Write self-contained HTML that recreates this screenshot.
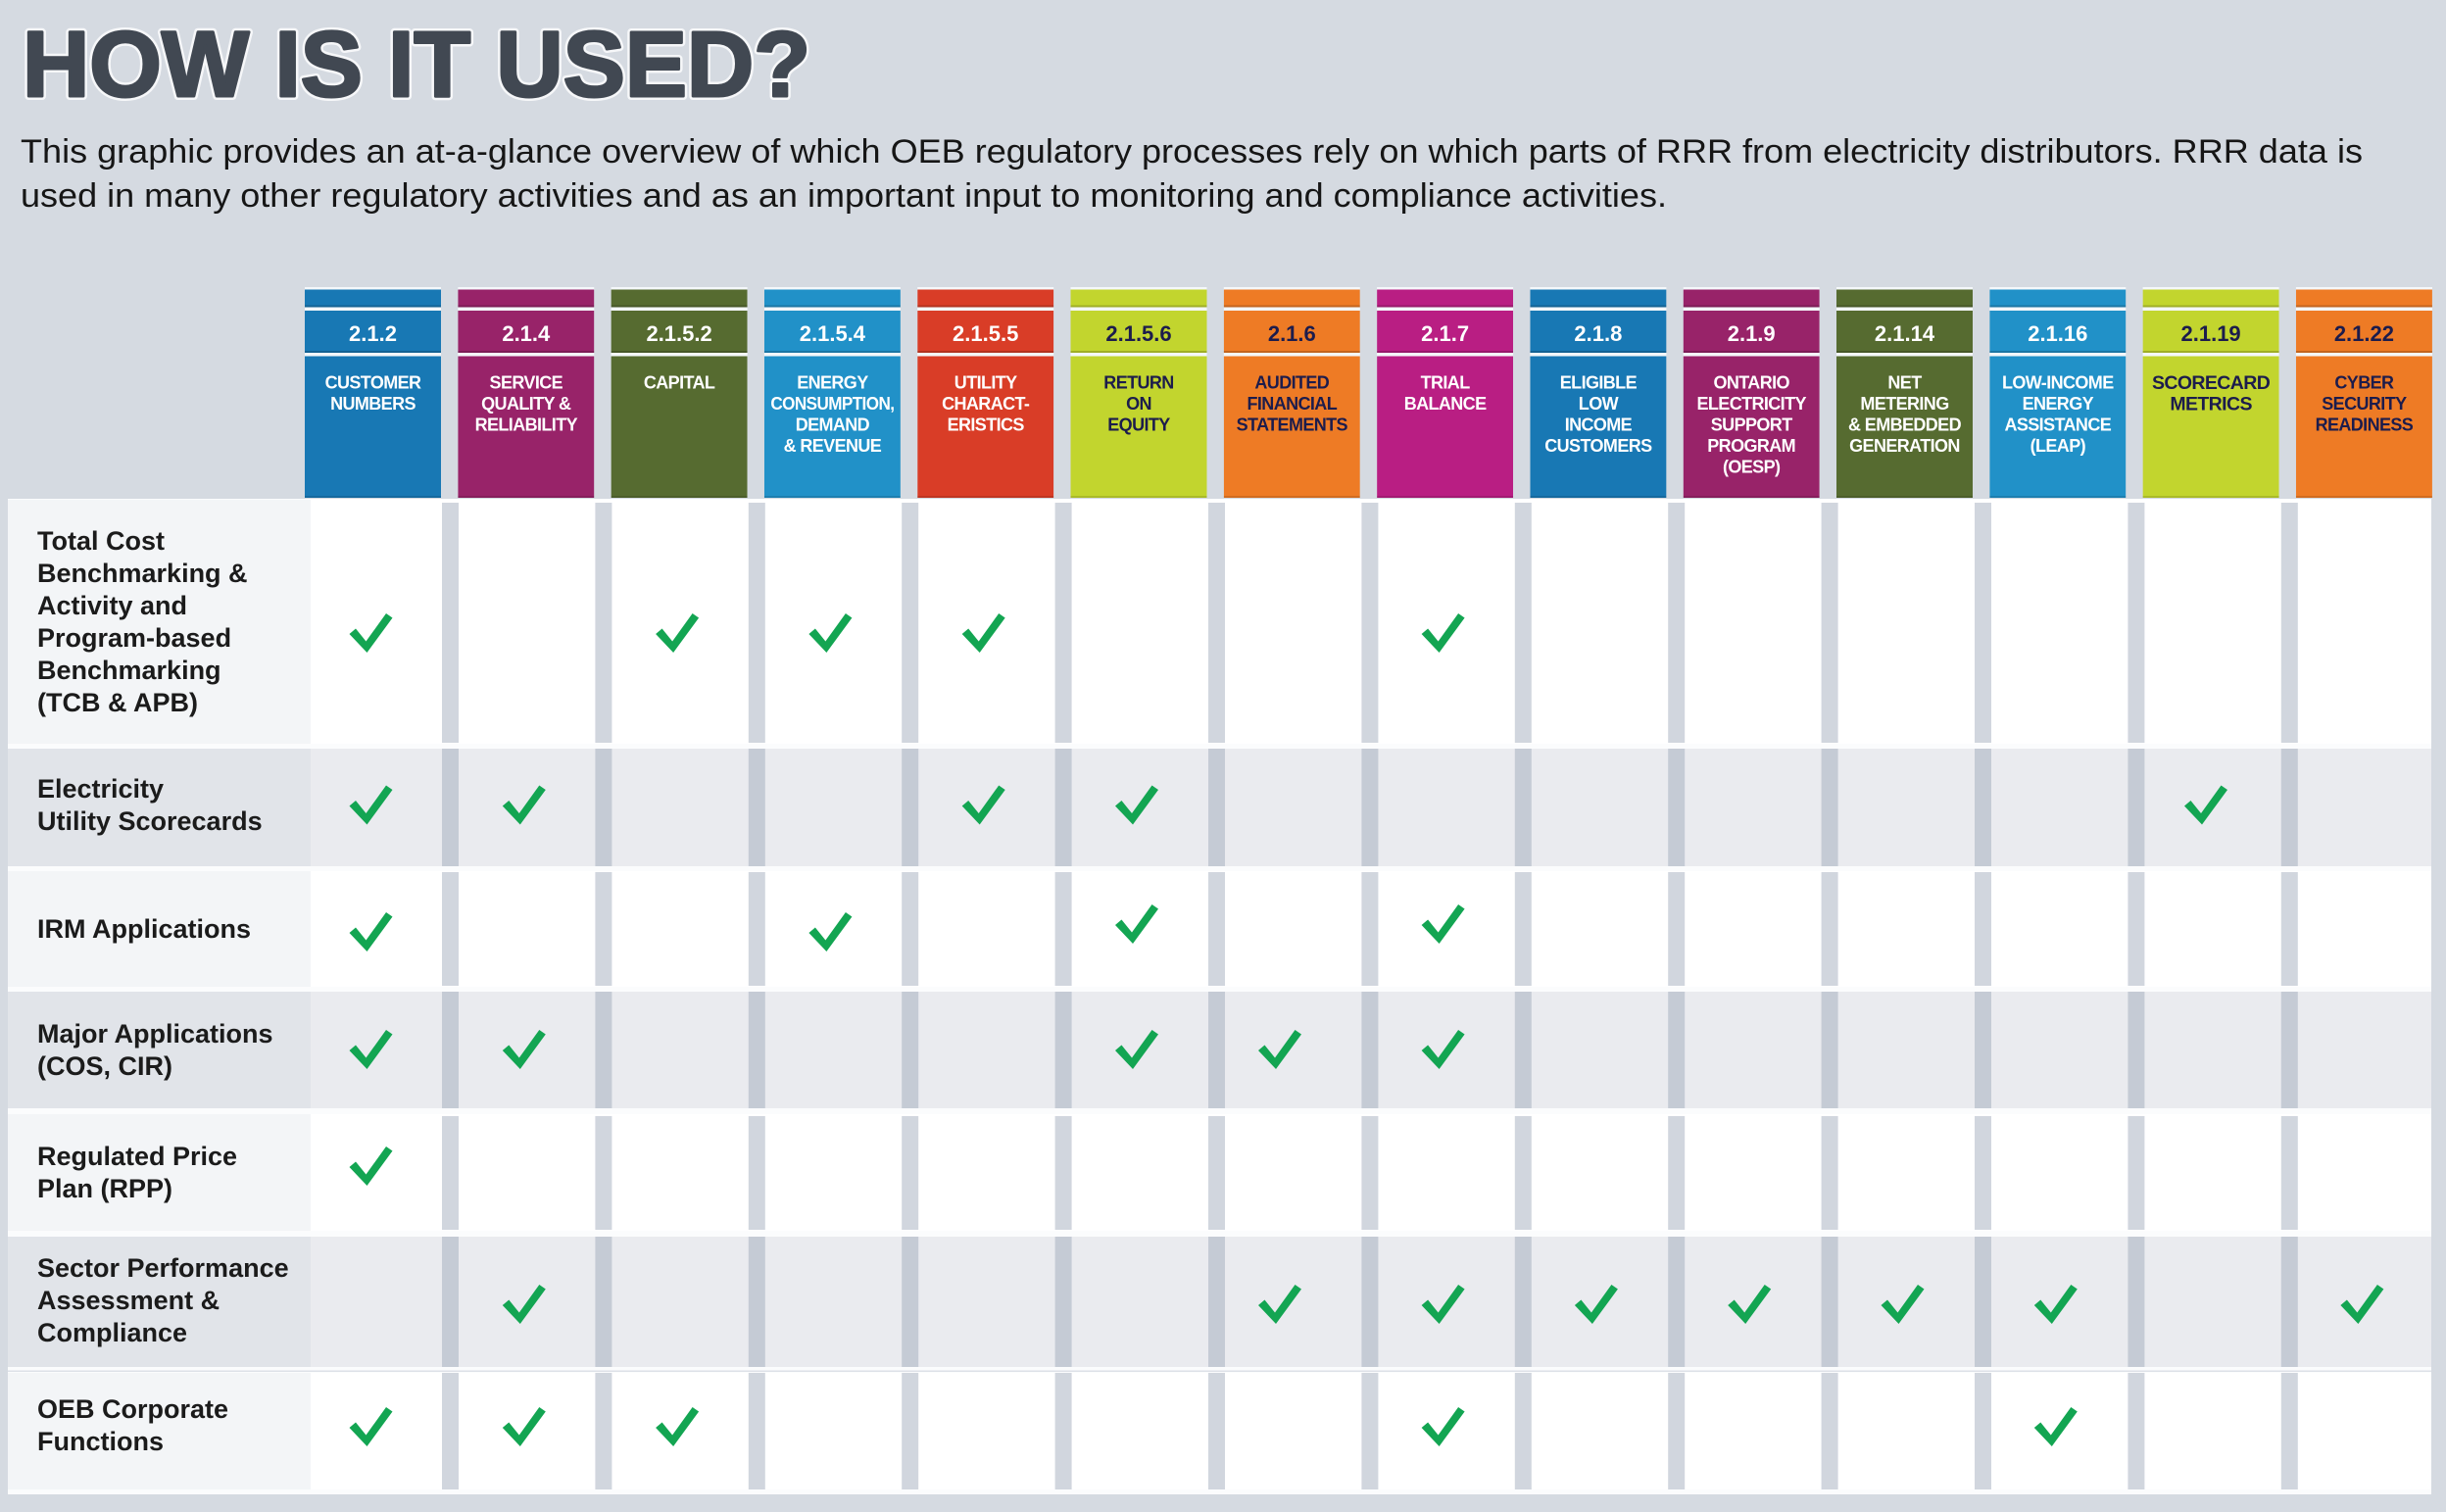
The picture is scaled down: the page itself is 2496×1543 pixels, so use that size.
<!DOCTYPE html>
<html><head><meta charset="utf-8"><style>
html,body{margin:0;padding:0;background:#d5dae1;}
svg{display:block;}
.hn{font-family:"Liberation Sans",sans-serif;font-weight:bold;font-size:22px;text-anchor:middle;}
.hl{font-family:"Liberation Sans",sans-serif;font-weight:bold;font-size:18px;letter-spacing:-0.6px;text-anchor:middle;}
.rl{font-family:"Liberation Sans",sans-serif;font-weight:bold;font-size:27px;fill:#1b1b1b;}
.p{font-family:"Liberation Sans",sans-serif;font-size:34px;fill:#161616;}
</style></head><body>
<svg width="2496" height="1543" viewBox="0 0 2496 1543" xmlns="http://www.w3.org/2000/svg">
<defs>
<polygon id="ck" points="-22,1 -15.5,-4.5 -5,8.5 15.5,-20 22,-15.5 -4,20" fill="#13a552"/>
</defs>
<rect x="0" y="0" width="2496" height="1543" fill="#d5dae1"/>

<!-- Title -->
<text x="23" y="98" font-family="Liberation Sans, sans-serif" font-weight="bold" font-size="95" textLength="804" lengthAdjust="spacingAndGlyphs" fill="none" stroke="#ffffff" stroke-width="8" stroke-linejoin="round" opacity="0.8">HOW IS IT USED?</text>
<text x="23" y="98" font-family="Liberation Sans, sans-serif" font-weight="bold" font-size="95" textLength="804" lengthAdjust="spacingAndGlyphs" fill="#414852" stroke="#414852" stroke-width="3" stroke-linejoin="round">HOW IS IT USED?</text>

<!-- Paragraph -->
<text class="p" x="21" y="166" textLength="2390" lengthAdjust="spacingAndGlyphs">This graphic provides an at-a-glance overview of which OEB regulatory processes rely on which parts of RRR from electricity distributors. RRR data is</text>
<text class="p" x="21" y="211" textLength="1680" lengthAdjust="spacingAndGlyphs">used in many other regulatory activities and as an important input to monitoring and compliance activities.</text>

<!-- Header columns -->
<g>
<rect x="311" y="294" width="139" height="214" fill="#1878b4"/>
<rect x="467.3" y="294" width="139" height="214" fill="#982369"/>
<rect x="623.6" y="294" width="139" height="214" fill="#566b30"/>
<rect x="779.9" y="294" width="139" height="214" fill="#2191c8"/>
<rect x="936.2" y="294" width="139" height="214" fill="#d93d27"/>
<rect x="1092.5" y="294" width="139" height="214" fill="#c2d52e"/>
<rect x="1248.8" y="294" width="139" height="214" fill="#ee7b25"/>
<rect x="1405.1" y="294" width="139" height="214" fill="#b91e83"/>
<rect x="1561.4" y="294" width="139" height="214" fill="#1878b4"/>
<rect x="1717.7" y="294" width="139" height="214" fill="#982369"/>
<rect x="1874" y="294" width="139" height="214" fill="#566b30"/>
<rect x="2030.3" y="294" width="139" height="214" fill="#2191c8"/>
<rect x="2186.6" y="294" width="139" height="214" fill="#c2d52e"/>
<rect x="2342.9" y="294" width="139" height="214" fill="#ee7b25"/>
</g>
<g>
<rect x="311" y="311.5" width="2171" height="2" fill="#000" opacity="0.18"/>
<rect x="311" y="358" width="2171" height="2" fill="#000" opacity="0.18"/>
<rect x="311" y="506" width="2171" height="2" fill="#000" opacity="0.12"/>
</g>
<g fill="#f4f7fa">
<rect x="311" y="293" width="2171" height="2.5"/>
<rect x="311" y="313.5" width="2171" height="3.5"/>
<rect x="311" y="360" width="2171" height="3.5"/>
</g>
<g fill="#d5dae1">
<rect x="450" y="290" width="17.3" height="220"/>
<rect x="606.3" y="290" width="17.3" height="220"/>
<rect x="762.6" y="290" width="17.3" height="220"/>
<rect x="918.9" y="290" width="17.3" height="220"/>
<rect x="1075.2" y="290" width="17.3" height="220"/>
<rect x="1231.5" y="290" width="17.3" height="220"/>
<rect x="1387.8" y="290" width="17.3" height="220"/>
<rect x="1544.1" y="290" width="17.3" height="220"/>
<rect x="1700.4" y="290" width="17.3" height="220"/>
<rect x="1856.7" y="290" width="17.3" height="220"/>
<rect x="2013" y="290" width="17.3" height="220"/>
<rect x="2169.3" y="290" width="17.3" height="220"/>
<rect x="2325.6" y="290" width="17.3" height="220"/>
</g>

<!-- Header numbers -->
<g class="hn">
<text x="380.5" y="348" fill="#fff">2.1.2</text>
<text x="536.8" y="348" fill="#fff">2.1.4</text>
<text x="693.1" y="348" fill="#fff">2.1.5.2</text>
<text x="849.4" y="348" fill="#fff">2.1.5.4</text>
<text x="1005.7" y="348" fill="#fff">2.1.5.5</text>
<text x="1162" y="348" fill="#1c1c4c">2.1.5.6</text>
<text x="1318.3" y="348" fill="#1c1c4c">2.1.6</text>
<text x="1474.6" y="348" fill="#fff">2.1.7</text>
<text x="1630.9" y="348" fill="#fff">2.1.8</text>
<text x="1787.2" y="348" fill="#fff">2.1.9</text>
<text x="1943.5" y="348" fill="#fff">2.1.14</text>
<text x="2099.8" y="348" fill="#fff">2.1.16</text>
<text x="2256.1" y="348" fill="#1c1c4c">2.1.19</text>
<text x="2412.4" y="348" fill="#1c1c4c">2.1.22</text>
</g>

<!-- Header labels -->
<g class="hl" fill="#fff">
<text x="380.5" y="396.5">CUSTOMER</text>
<text x="380.5" y="418">NUMBERS</text>

<text x="536.8" y="396.5">SERVICE</text>
<text x="536.8" y="418">QUALITY &amp;</text>
<text x="536.8" y="439.5">RELIABILITY</text>

<text x="693.1" y="396.5">CAPITAL</text>

<text x="849.4" y="396.5">ENERGY</text>
<text x="849.4" y="418" textLength="126" lengthAdjust="spacingAndGlyphs">CONSUMPTION,</text>
<text x="849.4" y="439.5">DEMAND</text>
<text x="849.4" y="461">&amp; REVENUE</text>

<text x="1005.7" y="396.5">UTILITY</text>
<text x="1005.7" y="418">CHARACT-</text>
<text x="1005.7" y="439.5">ERISTICS</text>

<text x="1474.6" y="396.5">TRIAL</text>
<text x="1474.6" y="418">BALANCE</text>

<text x="1630.9" y="396.5">ELIGIBLE</text>
<text x="1630.9" y="418">LOW</text>
<text x="1630.9" y="439.5">INCOME</text>
<text x="1630.9" y="461">CUSTOMERS</text>

<text x="1787.2" y="396.5">ONTARIO</text>
<text x="1787.2" y="418">ELECTRICITY</text>
<text x="1787.2" y="439.5">SUPPORT</text>
<text x="1787.2" y="461">PROGRAM</text>
<text x="1787.2" y="482.5">(OESP)</text>

<text x="1943.5" y="396.5">NET</text>
<text x="1943.5" y="418">METERING</text>
<text x="1943.5" y="439.5">&amp; EMBEDDED</text>
<text x="1943.5" y="461">GENERATION</text>

<text x="2099.8" y="396.5">LOW-INCOME</text>
<text x="2099.8" y="418">ENERGY</text>
<text x="2099.8" y="439.5">ASSISTANCE</text>
<text x="2099.8" y="461">(LEAP)</text>
</g>
<g class="hl" fill="#1c1c4c">
<text x="1162" y="396.5">RETURN</text>
<text x="1162" y="418">ON</text>
<text x="1162" y="439.5">EQUITY</text>

<text x="1318.3" y="396.5">AUDITED</text>
<text x="1318.3" y="418">FINANCIAL</text>
<text x="1318.3" y="439.5">STATEMENTS</text>

<text x="2256.1" y="397" style="font-size:19.5px">SCORECARD</text>
<text x="2256.1" y="418.5" style="font-size:19.5px">METRICS</text>

<text x="2412.4" y="396.5">CYBER</text>
<text x="2412.4" y="418">SECURITY</text>
<text x="2412.4" y="439.5">READINESS</text>
</g>

<!-- Table background -->
<rect x="8" y="509" width="2473" height="1016" fill="#fbfcfd"/>

<rect x="8" y="510" width="2473" height="249" fill="#ffffff"/>
<rect x="8" y="510" width="309" height="249" fill="#f3f5f7"/>
<rect x="8" y="764" width="2473" height="120" fill="#eaebef"/>
<rect x="8" y="764" width="309" height="120" fill="#e1e4e9"/>
<rect x="8" y="889" width="2473" height="118" fill="#ffffff"/>
<rect x="8" y="889" width="309" height="118" fill="#f3f5f7"/>
<rect x="8" y="1012" width="2473" height="119" fill="#eaebef"/>
<rect x="8" y="1012" width="309" height="119" fill="#e1e4e9"/>
<rect x="8" y="1137" width="2473" height="119" fill="#ffffff"/>
<rect x="8" y="1137" width="309" height="119" fill="#f3f5f7"/>
<rect x="8" y="1262" width="2473" height="133" fill="#eaebef"/>
<rect x="8" y="1262" width="309" height="133" fill="#e1e4e9"/>
<rect x="8" y="1401" width="2473" height="119" fill="#ffffff"/>
<rect x="8" y="1401" width="309" height="119" fill="#f3f5f7"/>
<rect x="8" y="1398.5" width="2473" height="1.5" fill="#dde1e7"/>

<!-- Separators -->
<g>
<g fill="#d1d6de">
<rect x="451" y="513" width="17" height="245"/><rect x="607.4" y="513" width="17" height="245"/><rect x="763.8" y="513" width="17" height="245"/><rect x="920.2" y="513" width="17" height="245"/><rect x="1076.6" y="513" width="17" height="245"/><rect x="1233" y="513" width="17" height="245"/><rect x="1389.4" y="513" width="17" height="245"/><rect x="1545.8" y="513" width="17" height="245"/><rect x="1702.2" y="513" width="17" height="245"/><rect x="1858.6" y="513" width="17" height="245"/><rect x="2015" y="513" width="17" height="245"/><rect x="2171.4" y="513" width="17" height="245"/><rect x="2327.8" y="513" width="17" height="245"/>
<rect x="451" y="890" width="17" height="116"/><rect x="607.4" y="890" width="17" height="116"/><rect x="763.8" y="890" width="17" height="116"/><rect x="920.2" y="890" width="17" height="116"/><rect x="1076.6" y="890" width="17" height="116"/><rect x="1233" y="890" width="17" height="116"/><rect x="1389.4" y="890" width="17" height="116"/><rect x="1545.8" y="890" width="17" height="116"/><rect x="1702.2" y="890" width="17" height="116"/><rect x="1858.6" y="890" width="17" height="116"/><rect x="2015" y="890" width="17" height="116"/><rect x="2171.4" y="890" width="17" height="116"/><rect x="2327.8" y="890" width="17" height="116"/>
<rect x="451" y="1139" width="17" height="116"/><rect x="607.4" y="1139" width="17" height="116"/><rect x="763.8" y="1139" width="17" height="116"/><rect x="920.2" y="1139" width="17" height="116"/><rect x="1076.6" y="1139" width="17" height="116"/><rect x="1233" y="1139" width="17" height="116"/><rect x="1389.4" y="1139" width="17" height="116"/><rect x="1545.8" y="1139" width="17" height="116"/><rect x="1702.2" y="1139" width="17" height="116"/><rect x="1858.6" y="1139" width="17" height="116"/><rect x="2015" y="1139" width="17" height="116"/><rect x="2171.4" y="1139" width="17" height="116"/><rect x="2327.8" y="1139" width="17" height="116"/>
<rect x="451" y="1401" width="17" height="119"/><rect x="607.4" y="1401" width="17" height="119"/><rect x="763.8" y="1401" width="17" height="119"/><rect x="920.2" y="1401" width="17" height="119"/><rect x="1076.6" y="1401" width="17" height="119"/><rect x="1233" y="1401" width="17" height="119"/><rect x="1389.4" y="1401" width="17" height="119"/><rect x="1545.8" y="1401" width="17" height="119"/><rect x="1702.2" y="1401" width="17" height="119"/><rect x="1858.6" y="1401" width="17" height="119"/><rect x="2015" y="1401" width="17" height="119"/><rect x="2171.4" y="1401" width="17" height="119"/><rect x="2327.8" y="1401" width="17" height="119"/>
</g>
<g fill="#c5cbd5">
<rect x="451" y="764" width="17" height="120"/><rect x="607.4" y="764" width="17" height="120"/><rect x="763.8" y="764" width="17" height="120"/><rect x="920.2" y="764" width="17" height="120"/><rect x="1076.6" y="764" width="17" height="120"/><rect x="1233" y="764" width="17" height="120"/><rect x="1389.4" y="764" width="17" height="120"/><rect x="1545.8" y="764" width="17" height="120"/><rect x="1702.2" y="764" width="17" height="120"/><rect x="1858.6" y="764" width="17" height="120"/><rect x="2015" y="764" width="17" height="120"/><rect x="2171.4" y="764" width="17" height="120"/><rect x="2327.8" y="764" width="17" height="120"/>
<rect x="451" y="1012" width="17" height="119"/><rect x="607.4" y="1012" width="17" height="119"/><rect x="763.8" y="1012" width="17" height="119"/><rect x="920.2" y="1012" width="17" height="119"/><rect x="1076.6" y="1012" width="17" height="119"/><rect x="1233" y="1012" width="17" height="119"/><rect x="1389.4" y="1012" width="17" height="119"/><rect x="1545.8" y="1012" width="17" height="119"/><rect x="1702.2" y="1012" width="17" height="119"/><rect x="1858.6" y="1012" width="17" height="119"/><rect x="2015" y="1012" width="17" height="119"/><rect x="2171.4" y="1012" width="17" height="119"/><rect x="2327.8" y="1012" width="17" height="119"/>
<rect x="451" y="1262" width="17" height="133"/><rect x="607.4" y="1262" width="17" height="133"/><rect x="763.8" y="1262" width="17" height="133"/><rect x="920.2" y="1262" width="17" height="133"/><rect x="1076.6" y="1262" width="17" height="133"/><rect x="1233" y="1262" width="17" height="133"/><rect x="1389.4" y="1262" width="17" height="133"/><rect x="1545.8" y="1262" width="17" height="133"/><rect x="1702.2" y="1262" width="17" height="133"/><rect x="1858.6" y="1262" width="17" height="133"/><rect x="2015" y="1262" width="17" height="133"/><rect x="2171.4" y="1262" width="17" height="133"/><rect x="2327.8" y="1262" width="17" height="133"/>
</g>
</g>

<!-- Row labels -->
<g class="rl">
<text x="38" y="561">Total Cost</text>
<text x="38" y="594">Benchmarking &amp;</text>
<text x="38" y="627">Activity and</text>
<text x="38" y="660">Program-based</text>
<text x="38" y="693">Benchmarking</text>
<text x="38" y="726">(TCB &amp; APB)</text>

<text x="38" y="814">Electricity</text>
<text x="38" y="847">Utility Scorecards</text>

<text x="38" y="957">IRM Applications</text>

<text x="38" y="1064">Major Applications</text>
<text x="38" y="1097">(COS, CIR)</text>

<text x="38" y="1189">Regulated Price</text>
<text x="38" y="1222">Plan (RPP)</text>

<text x="38" y="1303">Sector Performance</text>
<text x="38" y="1336">Assessment &amp;</text>
<text x="38" y="1369">Compliance</text>

<text x="38" y="1447">OEB Corporate</text>
<text x="38" y="1480">Functions</text>
</g>

<!-- Checkmarks -->
<g>
<use href="#ck" x="378.5" y="646"/>
<use href="#ck" x="691.1" y="646"/>
<use href="#ck" x="847.4" y="646"/>
<use href="#ck" x="1003.7" y="646"/>
<use href="#ck" x="1472.6" y="646"/>
<use href="#ck" x="378.5" y="821.5"/>
<use href="#ck" x="534.8" y="821.5"/>
<use href="#ck" x="1003.7" y="821.5"/>
<use href="#ck" x="1160" y="821.5"/>
<use href="#ck" x="2251" y="821.5"/>
<use href="#ck" x="378.5" y="951"/>
<use href="#ck" x="847.4" y="951"/>
<use href="#ck" x="1160" y="943"/>
<use href="#ck" x="1472.6" y="943"/>
<use href="#ck" x="378.5" y="1071"/>
<use href="#ck" x="534.8" y="1071"/>
<use href="#ck" x="1160" y="1071"/>
<use href="#ck" x="1306" y="1071"/>
<use href="#ck" x="1472.6" y="1071"/>
<use href="#ck" x="378.5" y="1190"/>
<use href="#ck" x="534.8" y="1331"/>
<use href="#ck" x="1306" y="1331"/>
<use href="#ck" x="1472.6" y="1331"/>
<use href="#ck" x="1628.9" y="1331"/>
<use href="#ck" x="1785.2" y="1331"/>
<use href="#ck" x="1941.5" y="1331"/>
<use href="#ck" x="2097.8" y="1331"/>
<use href="#ck" x="2410.4" y="1331"/>
<use href="#ck" x="378.5" y="1456"/>
<use href="#ck" x="534.8" y="1456"/>
<use href="#ck" x="691.1" y="1456"/>
<use href="#ck" x="1472.6" y="1456"/>
<use href="#ck" x="2097.8" y="1456"/>
</g>
</svg>
</body></html>
